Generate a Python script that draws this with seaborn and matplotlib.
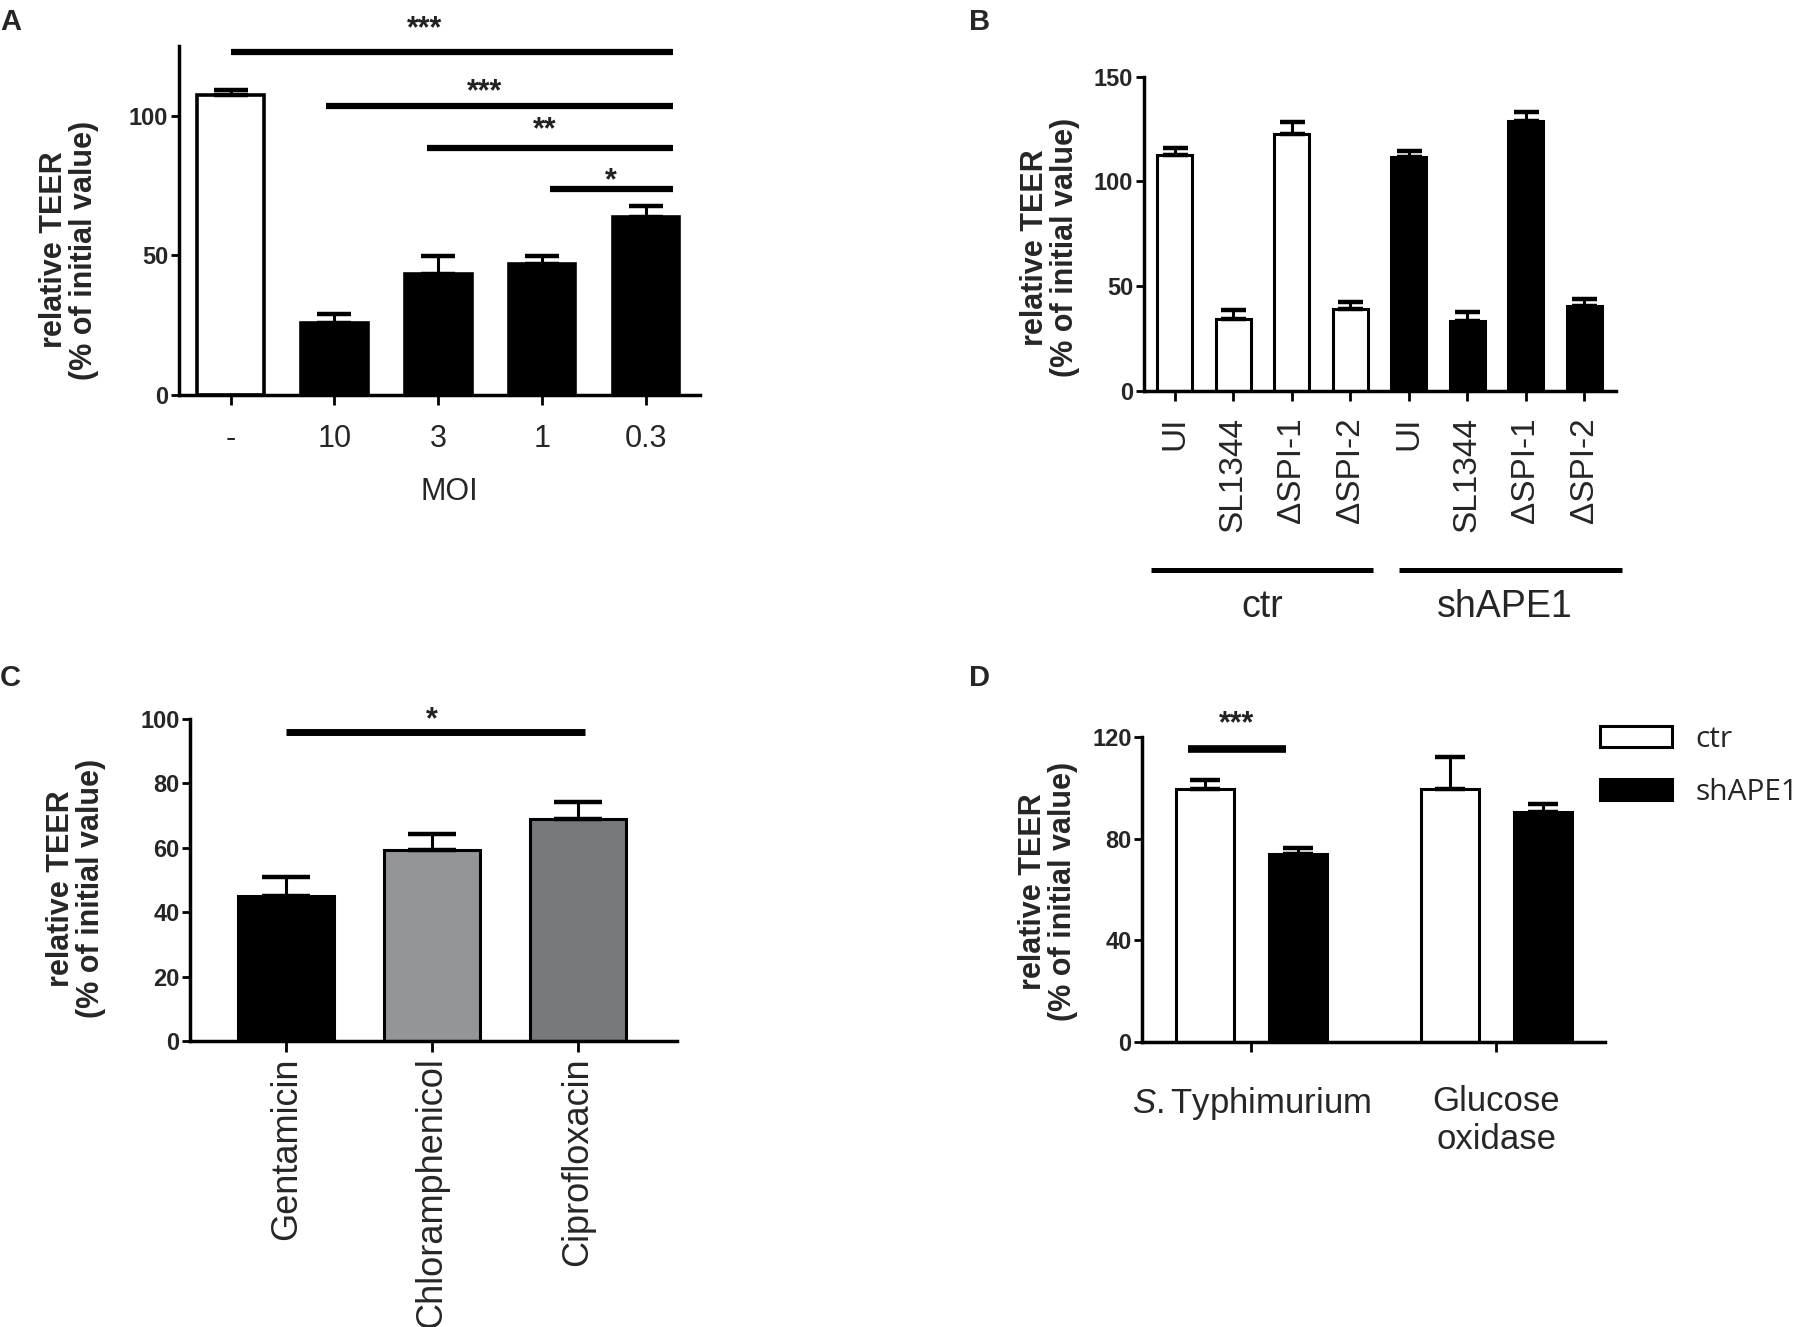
import numpy as np
import pandas as pd
import matplotlib
matplotlib.use('Agg')
import matplotlib.pyplot as plt
import matplotlib.transforms as mtransforms
import seaborn as sns

# panel A: TEER vs MOI
moi = ['-', '10', '3', '1', '0.3']
moi_mean = [107.4, 25.7, 43.3, 46.8, 63.8]
moi_sem = [1.9, 3.2, 6.6, 3.0, 3.9]
moi_colors = ['white', 'black', 'black', 'black', 'black']
a_sig_start = [0, 0.92, 1.89, 3.08]
a_sig_end = [4.26, 4.26, 4.26, 4.26]
a_sig_y = [123, 103.5, 88.4, 73.8]
a_sig_label = ['***', '***', '**', '*']
a_sig_text_x = [1.87, 2.45, 3.02, 3.66]
a_sig_text_y = [131, 108.5, 94.7, 76.5]

# panel B: strains in ctr / shAPE1 cells
strains = ['UI', 'SL1344', 'ΔSPI-1', 'ΔSPI-2']
b_groups = ['ctr', 'shAPE1']
ctr_mean_b = [112.7, 34.4, 122.8, 38.9]
ctr_sem_b = [3.1, 4.1, 5.6, 3.4]
sh_mean_b = [111.7, 33.4, 128.9, 40.3]
sh_sem_b = [3.1, 4.4, 4.4, 3.6]
b_group_start = [-0.41, 3.84]
b_group_end = [3.38, 7.65]
b_group_text_x = [1.5, 5.64]

# panel C: antibiotics
antibiotics = ['Gentamicin', 'Chloramphenicol', 'Ciprofloxacin']
abx_mean = [44.9, 59.2, 69.0]
abx_sem = [6.1, 5.2, 5.1]
abx_colors = ['black', '#939598', '#77797b']
c_sig = (0, 2.05, 95.9)
c_sig_text = (1.0, 99.7, '*')

# panel D: S. Typhimurium vs glucose oxidase
treatments = ['$\\mathit{S.}$Typhimurium', 'Glucose\noxidase']
d_groups = ['ctr', 'shAPE1']
ctr_mean_d = [99.5, 99.5]
ctr_sem_d = [3.6, 12.6]
sh_mean_d = [73.9, 90.5]
sh_sem_d = [2.4, 3.3]
d_sig = (-0.26, 0.14, 115.4)
d_sig_text = (-0.06, 125, '***')

ylab = 'relative TEER\n(% of initial value)'

sns.set_style('ticks')
plt.rcParams['font.family'] = ['Liberation Sans', 'DejaVu Sans']
plt.rcParams['mathtext.fontset'] = 'custom'
plt.rcParams['mathtext.rm'] = 'Liberation Sans'
plt.rcParams['mathtext.it'] = 'Liberation Sans:italic'
plt.rcParams['axes.linewidth'] = 2.5
plt.rcParams['axes.edgecolor'] = 'black'


def sorted_bars(ax):
    bars = [b for c in ax.containers for b in c]
    return sorted(bars, key=lambda b: b.get_x() + b.get_width() / 2)


def add_err(ax, bars, sems, capsize):
    xs = [b.get_x() + b.get_width() / 2 for b in bars]
    hs = [b.get_height() for b in bars]
    ax.errorbar(xs, hs, yerr=[np.zeros(len(sems)), sems], fmt='none',
                ecolor='black', elinewidth=2.2, capsize=capsize,
                capthick=3.2, zorder=3)


def style_axis(ax, ytks, ylim, lab_x, lab_y):
    sns.despine(ax=ax)
    ax.set_ylim(*ylim)
    ax.set_yticks(ytks)
    ax.set_yticklabels([str(t) for t in ytks], fontsize=17, fontweight='bold')
    ax.tick_params(axis='y', length=6, width=2, pad=1.5, color='black')
    ax.tick_params(axis='x', length=7, width=2, color='black')
    ax.set_ylabel(ylab, fontsize=22, fontweight='bold', linespacing=1.0, va='center')
    ax.yaxis.set_label_coords(lab_x, lab_y)


fig = plt.figure(figsize=(18.06, 13.27), dpi=100)

# ---- A
axA = fig.add_axes([0.0989, 0.7026, 0.2887, 0.2625])
dfA = pd.DataFrame({'moi': moi, 'teer': moi_mean})
sns.barplot(data=dfA, x='moi', y='teer', hue='moi', palette=moi_colors, legend=False,
            edgecolor='black', linewidth=2.6, width=0.64, errorbar=None, ax=axA)
add_err(axA, sorted_bars(axA), moi_sem, 12)
style_axis(axA, [0, 50, 100], (0, 125), -0.21, 0.415)
axA.set_xlim(-0.5, 4.52)
axA.tick_params(axis='x', labelsize=22, pad=14)
axA.set_xlabel('MOI', fontsize=22)
axA.xaxis.set_label_coords(0.52, -0.235)
for x0, x1, y in zip(a_sig_start, a_sig_end, a_sig_y):
    axA.plot([x0, x1], [y, y], color='black', lw=4.5, solid_capstyle='butt', clip_on=False)
for x, y, s in zip(a_sig_text_x, a_sig_text_y, a_sig_label):
    axA.text(x, y, s, ha='center', va='center', fontsize=22, fontweight='bold',
             color='#222222', clip_on=False)

# ---- B
axB = fig.add_axes([0.6333, 0.7057, 0.2615, 0.2363])
dfB = pd.DataFrame({
    'cond': [g + ' ' + s for g in b_groups for s in strains],
    'teer': ctr_mean_b + sh_mean_b,
})
b_colors = ['white'] * len(strains) + ['black'] * len(strains)
sns.barplot(data=dfB, x='cond', y='teer', hue='cond', palette=b_colors, legend=False,
            edgecolor='black', linewidth=2.2, width=0.6, errorbar=None, ax=axB)
add_err(axB, sorted_bars(axB), ctr_sem_b + sh_sem_b, 9)
style_axis(axB, [0, 50, 100, 150], (0, 150), -0.199, 0.455)
axB.set_xlim(-0.53, 7.54)
axB.set_xticks(range(len(dfB)))
axB.set_xticklabels(strains * 2, rotation=90, fontsize=24)
axB.tick_params(axis='x', pad=12)
axB.set_xlabel('')
trB = mtransforms.blended_transform_factory(axB.transData, axB.transAxes)
for x0, x1, xt, g in zip(b_group_start, b_group_end, b_group_text_x, b_groups):
    axB.plot([x0, x1], [-0.572, -0.572], color='black', lw=3.6, transform=trB,
             clip_on=False, solid_capstyle='butt')
    axB.text(xt, -0.69, g, ha='center', va='center', fontsize=27, transform=trB)

# ---- C
axC = fig.add_axes([0.1052, 0.2155, 0.2697, 0.2427])
dfC = pd.DataFrame({'abx': antibiotics, 'teer': abx_mean})
sns.barplot(data=dfC, x='abx', y='teer', hue='abx', palette=abx_colors, legend=False,
            edgecolor='black', linewidth=2.2, width=0.66, errorbar=None, ax=axC)
add_err(axC, sorted_bars(axC), abx_sem, 17)
style_axis(axC, [0, 20, 40, 60, 80, 100], (0, 100), -0.234, 0.473)
axC.set_xlim(-0.66, 2.68)
axC.tick_params(axis='x', labelsize=26, labelrotation=90, pad=4, length=8)
axC.set_xlabel('')
axC.plot([c_sig[0], c_sig[1]], [c_sig[2], c_sig[2]], color='black', lw=5,
         solid_capstyle='butt', clip_on=False)
axC.text(c_sig_text[0], c_sig_text[1], c_sig_text[2], ha='center', va='center',
         fontsize=22, fontweight='bold', color='#222222', clip_on=False)

# ---- D
axD = fig.add_axes([0.6323, 0.2149, 0.2562, 0.2297])
dfD = pd.DataFrame({
    'treat': treatments * 2,
    'group': [d_groups[0]] * 2 + [d_groups[1]] * 2,
    'teer': ctr_mean_d + sh_mean_d,
})
sns.barplot(data=dfD, x='treat', y='teer', hue='group', palette=['white', 'black'],
            edgecolor='black', linewidth=2.2, width=0.76, gap=0.38, errorbar=None, ax=axD)
for cont, sems in zip(axD.containers, [ctr_sem_d, sh_sem_d]):
    add_err(axD, list(cont), sems, 10.5)
style_axis(axD, [0, 40, 80, 120], (0, 120), -0.203, 0.493)
axD.set_xlim(-0.447, 1.442)
axD.tick_params(axis='x', labelsize=25, pad=24)
axD.set_xlabel('')
axD.plot([d_sig[0], d_sig[1]], [d_sig[2], d_sig[2]], color='black', lw=5.5,
         solid_capstyle='butt', clip_on=False)
axD.text(d_sig_text[0], d_sig_text[1], d_sig_text[2], ha='center', va='center',
         fontsize=22, fontweight='bold', color='#222222', clip_on=False)
handles, labels = axD.get_legend_handles_labels()
axD.legend(handles, labels, loc='upper left', bbox_to_anchor=(0.99, 1.04), frameon=False,
           borderpad=0, borderaxespad=0, handlelength=2.4, handleheight=0.7,
           handletextpad=0.8, labelspacing=0.8, prop={'family': 'Open Sans', 'size': 21.5})

# panel letters
for x, y, s in [(0.0, 0.994, 'A'), (0.5365, 0.994, 'B'), (0.0, 0.5, 'C'), (0.5365, 0.5, 'D')]:
    fig.text(x, y, s, ha='left', va='top', fontsize=21, fontweight='bold')

fig.savefig('out.png', dpi=100)
